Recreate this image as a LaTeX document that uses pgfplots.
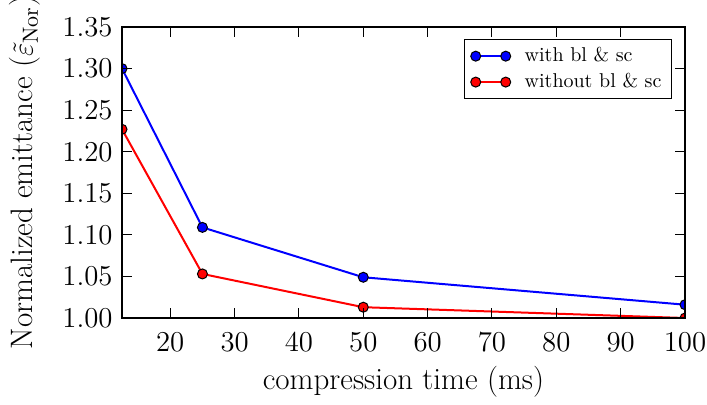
\documentclass[border=0pt]{standalone}
\usepackage{pgfplots}
\pgfplotsset{compat=1.18}
\begin{document}
\begin{tikzpicture}
\useasboundingbox (-61pt,-43pt) rectangle (292.5pt,159pt);
\clip (-61pt,-43pt) rectangle (292.5pt,159pt);
\begin{axis}[
  at={(0pt,0pt)}, anchor=origin,
  scale only axis,
  width=281.5pt, height=145.5pt,
  xmin=12.5, xmax=100,
  ymin=1.0, ymax=1.35,
  xtick={20,30,...,100},
  ytick={1.00,1.05,...,1.351},
  yticklabel style={/pgf/number format/fixed, /pgf/number format/fixed zerofill, /pgf/number format/precision=2},
  tick align=inside,
  xtick pos=both, ytick pos=both,
  major tick length=5pt,
  every tick/.style={black, line width=0.5pt},
  axis line style={line width=1pt},
  axis on top,
  clip marker paths=true,
  tick label style={font=\fontsize{15}{18}\selectfont},
  label style={font=\fontsize{15.5}{18.5}\selectfont},
  xticklabel style={anchor=base, inner sep=0pt, yshift=-16.5pt},
  yticklabel style={anchor=east, inner sep=0pt, xshift=-4.5pt},
  xlabel={compression time (ms)},
  ylabel={Normalized emittance ($\tilde{\varepsilon}_{\mathrm{Nor}}$)},
  xlabel style={at={(axis description cs:0.5,0)}, anchor=base, inner sep=0pt, yshift=-35.5pt},
  ylabel style={at={(axis description cs:-0.1723,0.5)}, anchor=center, inner sep=0pt},
  legend style={at={(axis description cs:1,1)}, anchor=north east, xshift=-6.5pt, yshift=-6pt,
    font=\fontsize{10}{12}\selectfont, draw=black, line width=0.5pt, row sep=0.3pt, column sep=5pt,
    inner xsep=3pt, inner ysep=2pt},
  legend cell align=left,
  legend image code/.code={\draw[#1] plot coordinates {(0pt,0pt) (15pt,0pt)};},
]
\addplot[blue, line width=1pt, mark=*, mark size=2.5pt, mark options={fill=blue, draw=black, line width=0.5pt}]
  coordinates {(12.5,1.300) (25,1.109) (50,1.049) (100,1.016)};
\addlegendentry{with bl \& sc}
\addplot[red, line width=1pt, mark=*, mark size=2.5pt, mark options={fill=red, draw=black, line width=0.5pt}]
  coordinates {(12.5,1.227) (25,1.053) (50,1.013) (100,1.000)};
\addlegendentry{without bl \& sc}
\end{axis}
\end{tikzpicture}
\end{document}
